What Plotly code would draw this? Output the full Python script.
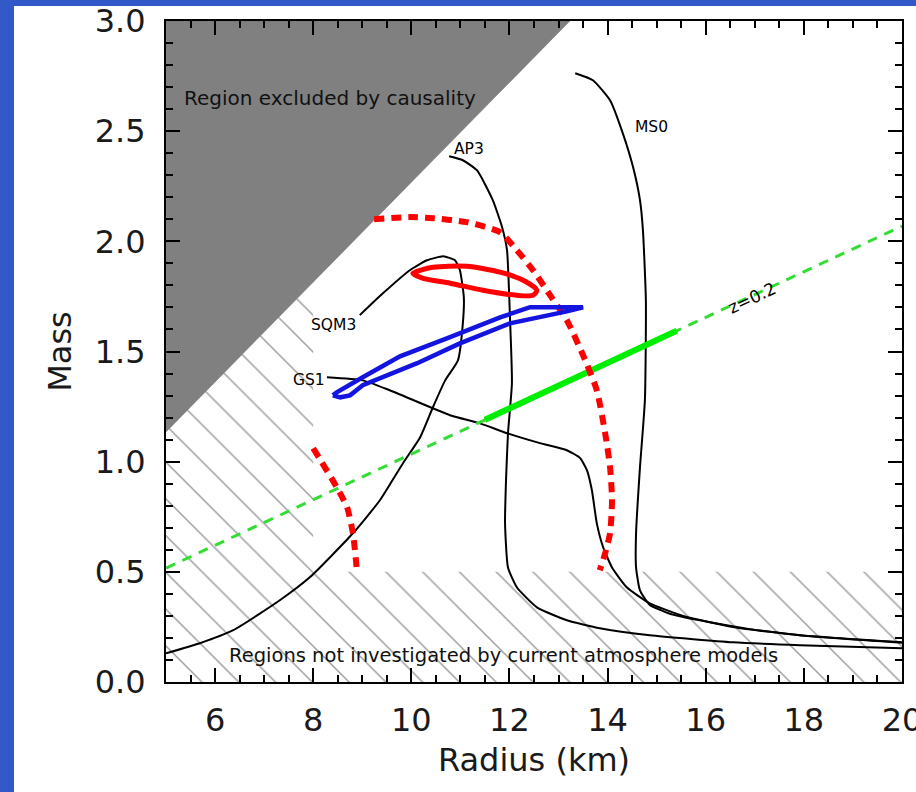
import plotly.graph_objects as go

# ---------------- data ----------------
x_tick_vals = [6, 8, 10, 12, 14, 16, 18, 20]
y_tick_vals = [0.0, 0.5, 1.0, 1.5, 2.0, 2.5, 3.0]

# region excluded by causality (grey triangle)
causality_R = [5.0, 13.23, 5.0]
causality_M = [1.135, 3.0, 3.0]

# hatched regions (not investigated by atmosphere models)
hatch_R = [5.0, 20.0, 20.0, 8.0, 8.0, 5.0]
hatch_M = [0.0, 0.0, 0.5, 0.5, 1.815, 1.135]

# mass-radius relations
sqm3_R = [8.95, 9.42, 9.97, 10.32, 10.65, 10.89, 10.99, 11.07, 11.05, 10.95, 10.69,
          10.44, 10.18, 9.83, 9.36, 8.81, 7.93, 7.32, 6.37, 5.69, 5.00]
sqm3_M = [1.665, 1.764, 1.869, 1.914, 1.932, 1.914, 1.869, 1.746, 1.628, 1.460, 1.369,
          1.247, 1.111, 0.993, 0.825, 0.675, 0.475, 0.371, 0.235, 0.176, 0.130]

gs1_R = [8.28, 9.01, 9.56, 10.79, 11.40, 11.95, 12.62, 13.17, 13.44, 13.58, 13.68,
         13.78, 13.91, 14.09, 14.39, 14.86, 15.54, 16.55, 17.92, 20.0]
gs1_M = [1.383, 1.369, 1.324, 1.211, 1.174, 1.129, 1.084, 1.052, 1.016, 0.961, 0.870,
         0.720, 0.611, 0.520, 0.430, 0.357, 0.300, 0.250, 0.212, 0.178]

ap3_R = [10.77, 11.05, 11.34, 11.66, 11.85, 11.95, 12.01, 12.05, 11.97, 11.93, 11.91,
         11.97, 12.15, 12.56, 13.17, 13.84, 14.86, 16.55, 17.92, 20.0]
ap3_M = [2.386, 2.368, 2.322, 2.187, 2.064, 1.960, 1.655, 1.356, 1.129, 0.916, 0.720,
         0.520, 0.430, 0.339, 0.280, 0.244, 0.212, 0.180, 0.167, 0.153]

ms0_R = [13.34, 13.70, 14.05, 14.31, 14.52, 14.66, 14.72, 14.78, 14.76, 14.66, 14.58,
         14.58, 14.66, 14.86, 15.27, 15.88, 16.90, 17.92, 20.0]
ms0_M = [2.763, 2.731, 2.640, 2.490, 2.336, 2.187, 2.050, 1.733, 1.279, 0.975, 0.675,
         0.520, 0.416, 0.350, 0.310, 0.280, 0.240, 0.212, 0.180]

# redshift z = 0.2 line and its measured segment
z_line_R = [5.0, 20.0]
z_line_M = [0.517, 2.069]
z_seg_R = [11.5, 15.41]
z_seg_M = [1.190, 1.594]

# radius constraints (red dotted arcs)
arc_big_R = [9.24, 9.97, 10.44, 11.13, 11.81, 12.15, 12.48, 12.83, 13.17, 13.50, 13.78,
             13.95, 14.05, 14.09, 14.05, 13.95, 13.84]
arc_big_M = [2.100, 2.110, 2.105, 2.087, 2.041, 1.960, 1.869, 1.755, 1.642, 1.483, 1.324,
             1.129, 0.975, 0.825, 0.675, 0.584, 0.507]
arc_small_R = [8.00, 8.48, 8.69, 8.81, 8.89]
arc_small_M = [1.061, 0.884, 0.793, 0.675, 0.507]

# red closed contour
red_R = [10.03, 10.44, 11.13, 11.81, 12.28, 12.56, 12.48, 12.15, 11.46, 10.79, 10.24, 10.03]
red_M = [1.855, 1.882, 1.887, 1.860, 1.823, 1.778, 1.755, 1.755, 1.778, 1.810, 1.832, 1.855]

# blue closed contour
blue_R = [8.40, 8.48, 9.01, 9.77, 10.79, 11.81, 12.42, 13.50, 13.17, 12.01, 10.99,
          10.12, 9.01, 8.75, 8.55, 8.40]
blue_M = [1.301, 1.315, 1.383, 1.478, 1.565, 1.655, 1.701, 1.701, 1.682, 1.628, 1.537,
          1.447, 1.347, 1.301, 1.292, 1.301]

# text labels
label_text = ["MS0", "AP3", "SQM3", "GS1"]
label_R = [14.90, 11.17, 8.42, 7.91]
label_M = [2.518, 2.418, 1.619, 1.369]

# ---------------- figure ----------------
FONT = "DejaVu Sans"
fig = go.Figure()

fig.add_trace(go.Scatter(
    x=hatch_R, y=hatch_M, mode="lines", fill="toself",
    fillcolor="rgba(0,0,0,0)", line=dict(width=0, color="rgba(0,0,0,0)"),
    fillpattern=dict(shape="\\", size=26, solidity=0.055, fgcolor="#3a3a3a",
                     bgcolor="rgba(0,0,0,0)"),
    hoverinfo="skip"))

fig.add_trace(go.Scatter(
    x=causality_R, y=causality_M, mode="lines", fill="toself",
    fillcolor="#808080", line=dict(width=0.5, color="#6a6a6a"), hoverinfo="skip"))

black = dict(color="black", width=2, shape="spline", smoothing=0.5)
for r, m in [(sqm3_R, sqm3_M), (gs1_R, gs1_M), (ap3_R, ap3_M), (ms0_R, ms0_M)]:
    fig.add_trace(go.Scatter(x=r, y=m, mode="lines", line=black))

fig.add_trace(go.Scatter(x=z_line_R, y=z_line_M, mode="lines",
                         line=dict(color="#33dd33", width=3, dash="10px,8px")))
fig.add_trace(go.Scatter(x=z_seg_R, y=z_seg_M, mode="lines",
                         line=dict(color="#00ee00", width=6)))

red_dot = dict(color="#ff0000", width=6, dash="10px,7px", shape="spline", smoothing=0.6)
fig.add_trace(go.Scatter(x=arc_big_R, y=arc_big_M, mode="lines", line=red_dot))
fig.add_trace(go.Scatter(x=arc_small_R, y=arc_small_M, mode="lines", line=red_dot))

fig.add_trace(go.Scatter(x=red_R, y=red_M, mode="lines",
                         line=dict(color="#ff0000", width=5, shape="spline", smoothing=0.7)))
fig.add_trace(go.Scatter(x=blue_R, y=blue_M, mode="lines",
                         line=dict(color="#1414e0", width=4.5)))

# annotations
for t, r, m in zip(label_text, label_R, label_M):
    fig.add_annotation(x=r, y=m, text=t, showarrow=False,
                       font=dict(family=FONT, size=15.5, color="black"))
fig.add_annotation(x=8.34, y=2.65, text="Region excluded by causality", showarrow=False,
                   font=dict(family=FONT, size=20, color="#111111"))
fig.add_annotation(x=11.87, y=0.121,
                   text="Regions not investigated by current atmosphere models",
                   showarrow=False, font=dict(family=FONT, size=19.5, color="#111111"))
fig.add_annotation(x=16.94, y=1.741, text="z=0.2", showarrow=False, textangle=-25,
                   font=dict(family=FONT, size=17, color="black"))

# frame: blue border strips on top and left
W, H = 916, 792
L, R, T, B = 166, 14, 21, 110
pw, ph = W - L - R, H - T - B
def px_x(p):
    return (p - L) / pw
def px_y(p):
    return (H - B - p) / ph
fig.add_shape(type="rect", xref="paper", yref="paper",
              x0=px_x(14), x1=px_x(W + 2), y0=px_y(6), y1=px_y(H + 2),
              fillcolor="white", line=dict(width=0), layer="below")

axis_common = dict(
    showline=True, linecolor="black", linewidth=2, mirror="ticks",
    ticks="inside", ticklen=14, tickwidth=2, tickcolor="black",
    showgrid=False, zeroline=False, ticklabeloverflow="allow", automargin=False,
    tickfont=dict(family=FONT, size=32, color="#1a1a1a"),
)
fig.update_xaxes(range=[5, 20], tickvals=x_tick_vals,
                 ticktext=[str(v) for v in x_tick_vals],
                 minor=dict(dtick=0.5, tick0=5, ticklen=7, tickwidth=2,
                            tickcolor="black", ticks="inside"),
                 title=dict(text="Radius (km)", font=dict(family=FONT, size=32, color="#1a1a1a"),
                            standoff=10),
                 ticklabelstandoff=9, **axis_common)
fig.update_yaxes(range=[0, 3], tickvals=y_tick_vals,
                 ticktext=["%.1f" % v for v in y_tick_vals],
                 minor=dict(dtick=0.1, tick0=0, ticklen=7, tickwidth=2,
                            tickcolor="black", ticks="inside"),
                 title=dict(text="Mass", font=dict(family=FONT, size=32, color="#1a1a1a"),
                            standoff=14),
                 ticklabelstandoff=12, **axis_common)

fig.update_layout(
    width=W, height=H, showlegend=False,
    margin=dict(l=L, r=R, t=T, b=B, pad=0, autoexpand=False),
    paper_bgcolor="#3159c8", plot_bgcolor="white",
)

fig.write_html("out.html")
